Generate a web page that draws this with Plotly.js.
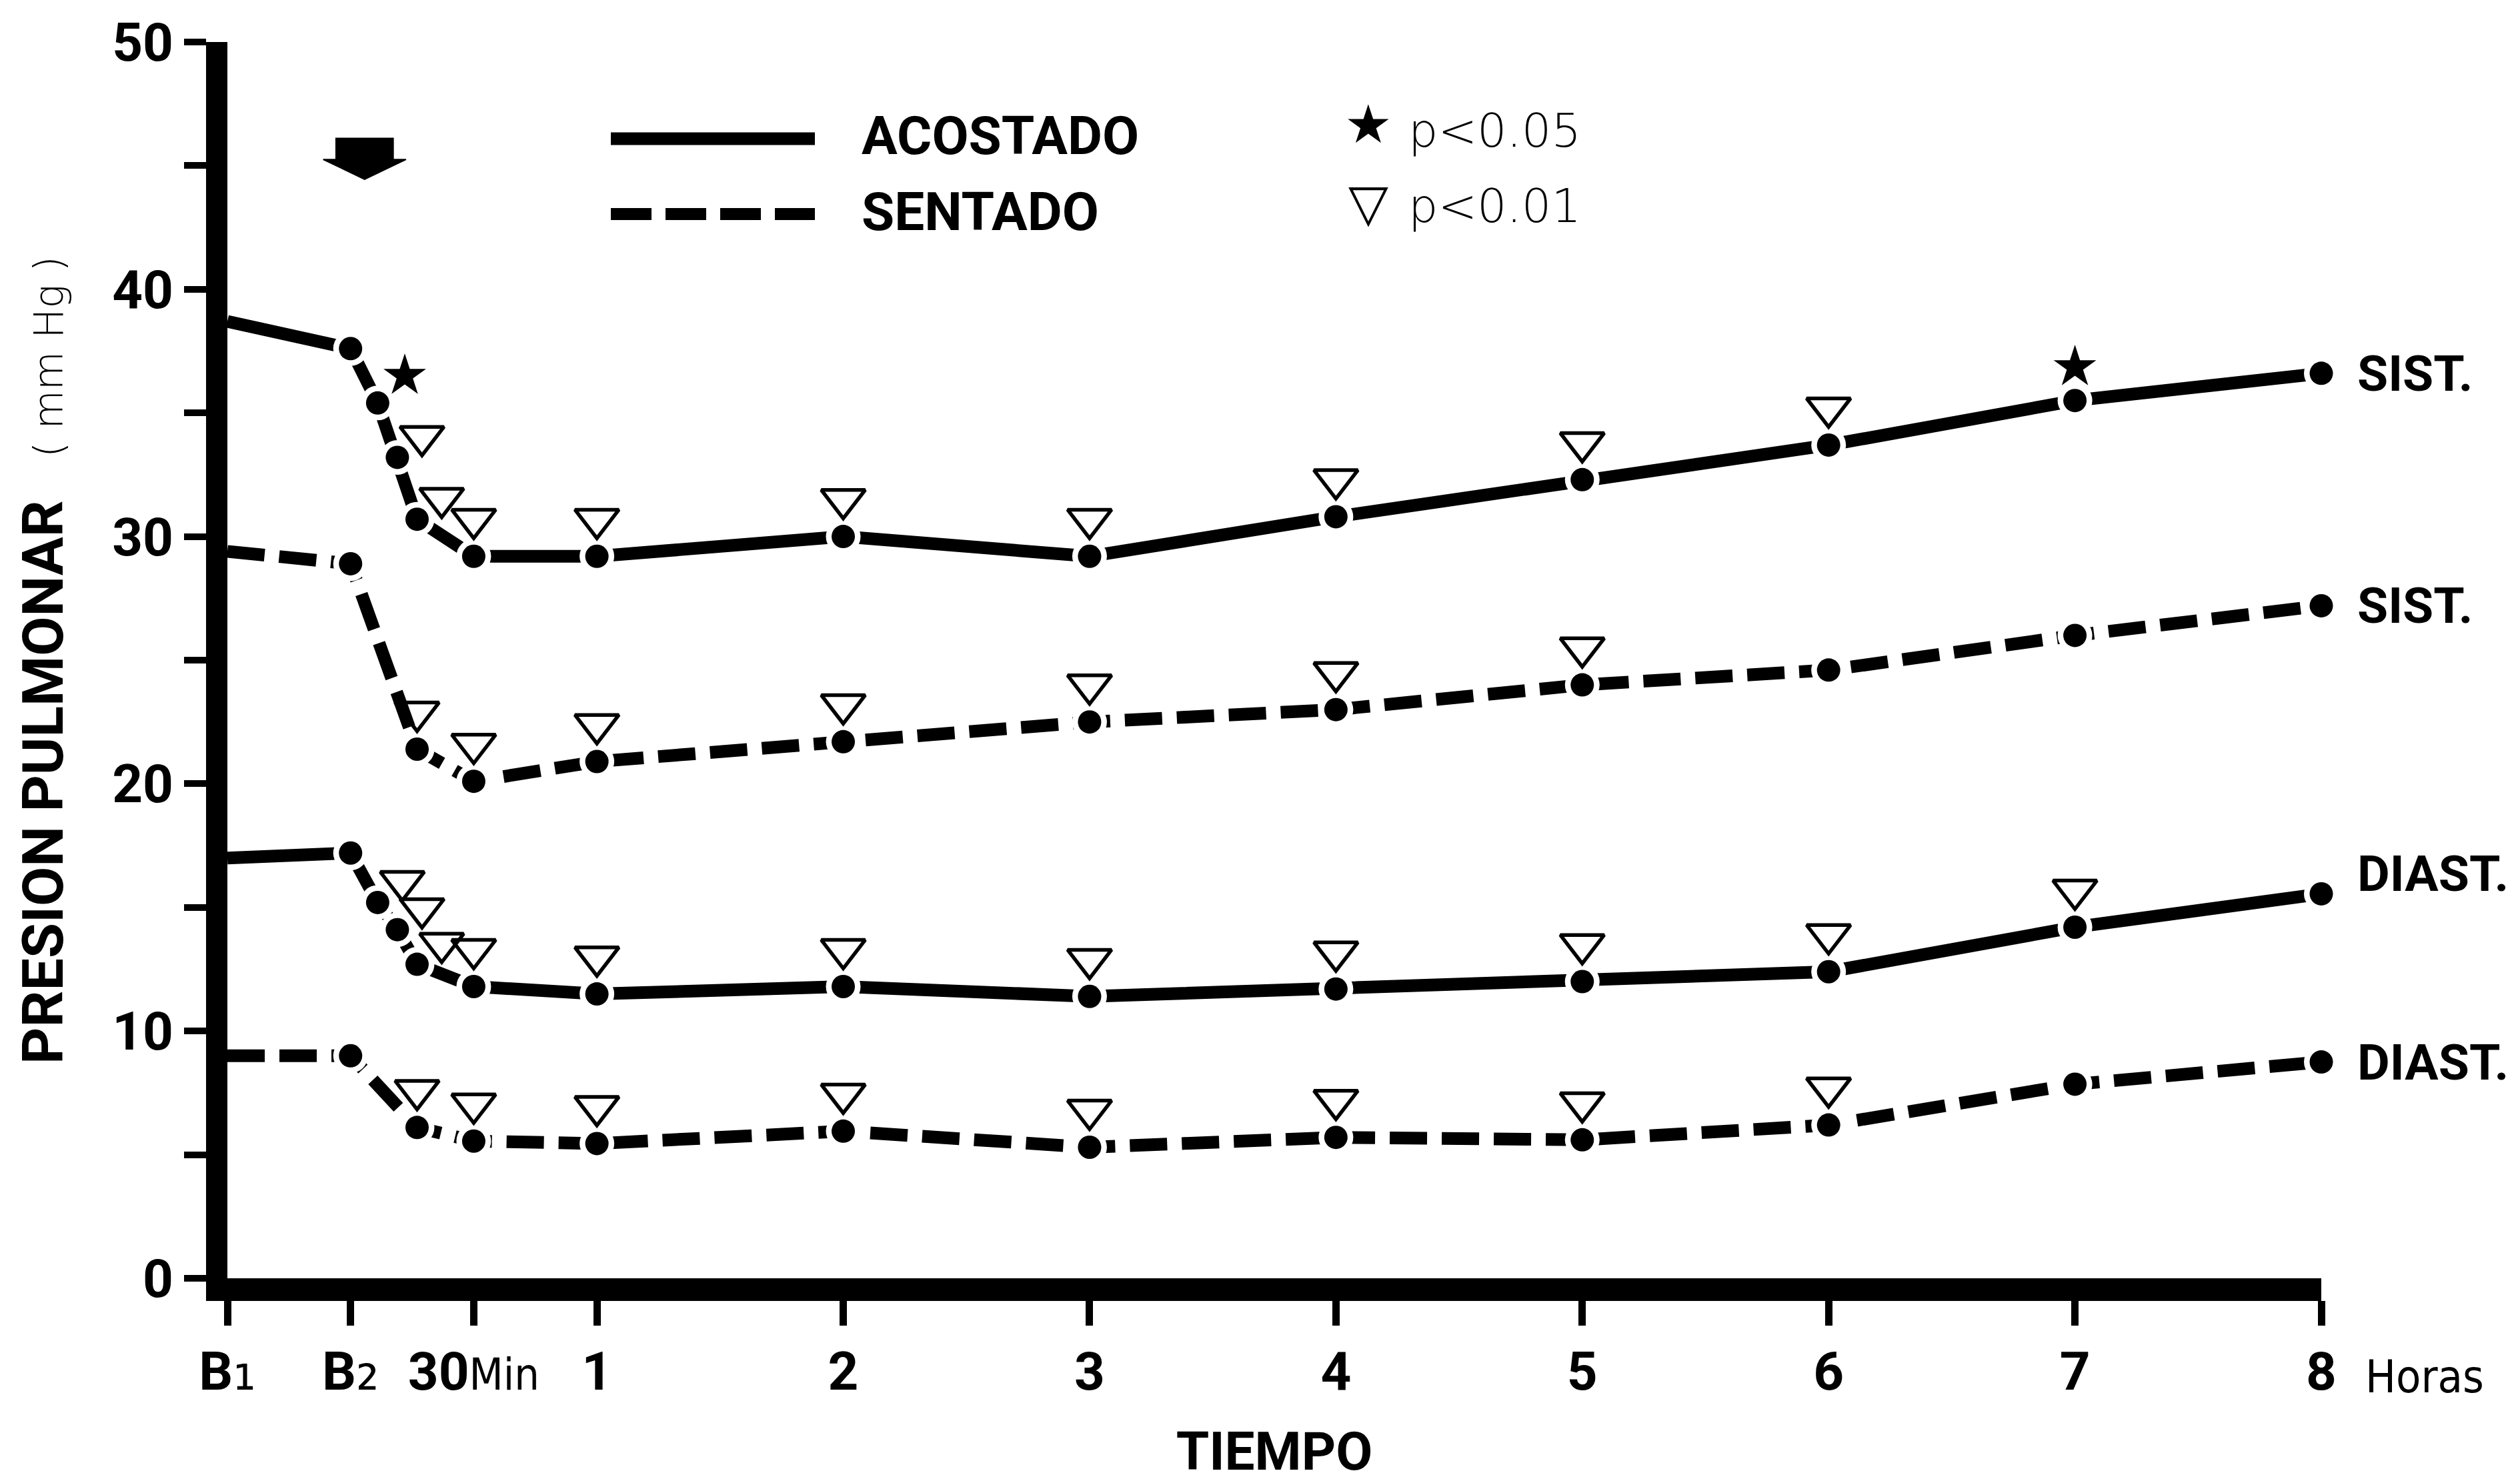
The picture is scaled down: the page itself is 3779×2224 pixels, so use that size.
<!DOCTYPE html>
<html>
<head>
<meta charset="utf-8">
<script src="https://cdn.plot.ly/plotly-3.0.1.min.js"></script>
<style>
  html, body { margin: 0; padding: 0; background: #ffffff; }
  #chart { width: 3779px; height: 2224px; }
</style>
</head>
<body>
<div id="chart"></div>
<script>
// ---------------- DATA ----------------
// time points: B1, B2, early minutes after B2, 30 min, 1 ... 8 h
// (x positions in hours)
const timePoints = ['B1', 'B2', '5 min', '10 min', '15 min', '30 min', '1 h', '2 h', '3 h', '4 h', '5 h', '6 h', '7 h', '8 h'];
const timeHours  = [-0.5, 0, 0.11, 0.19, 0.27, 0.5, 1, 2, 3, 4, 5, 6, 7, 8];

// pulmonary pressure (mm Hg)
const acostadoSist  = [38.7, 37.6, 35.4, 33.2, 30.7, 29.2, 29.2, 30.0, 29.2, 30.8, 32.3, 33.7, 35.5, 36.6];
const sentadoSist   = [29.4, 28.9, null, null, 21.4, 20.1, 20.9, 21.7, 22.5, 23.0, 24.0, 24.6, 26.0, 27.2];
const acostadoDiast = [17.0, 17.2, 15.2, 14.1, 12.7, 11.8, 11.5, 11.8, 11.4, 11.7, 12.0, 12.4, 14.2, 15.55];
const sentadoDiast  = [9.0, 9.0, null, null, 6.1, 5.55, 5.45, 5.95, 5.3, 5.7, 5.6, 6.2, 7.85, 8.75];

// significance: '*' = p<0.05, 'v' = p<0.01
const sigAcostadoSist  = [null, null, '*', 'v', 'v', 'v', 'v', 'v', 'v', 'v', 'v', 'v', '*', null];
const sigSentadoSist   = [null, null, null, null, 'v', 'v', 'v', 'v', 'v', 'v', 'v', null, null, null];
const sigAcostadoDiast = [null, null, 'v', 'v', 'v', 'v', 'v', 'v', 'v', 'v', 'v', 'v', 'v', null];
const sigSentadoDiast  = [null, null, null, null, 'v', 'v', 'v', 'v', 'v', 'v', 'v', 'v', null, null];

const seriesNames  = ['ACOSTADO', 'SENTADO'];
const seriesLabels = ['SIST.', 'SIST.', 'DIAST.', 'DIAST.'];

// axis ticks
const xTickVals = [-0.5, 0, 0.5, 1, 2, 3, 4, 5, 6, 7, 8];
const xTickText = ['B\u2081', 'B\u2082', '30Min', '1', '2', '3', '4', '5', '6', '7', '8'];
const yRange = [0, 50];
const yMajorStep = 10, yMinorStep = 5;

const sigLegend = ['p<0.05', 'p<0.01'];

// ---------------- STYLE / BUILD ----------------
const BOLD = 'Roboto, "Liberation Sans", Arial, sans-serif';
const THIN = '"DejaVu Sans", sans-serif';
const NARROW = '"DejaVu Sans Condensed", "Liberation Sans Narrow", sans-serif';

function fmtTick(t) {
  const s = t.match(/^(B)([\u2080-\u2089])$/);
  if (s) return '<b>' + s[1] + '</b><span style="font-family:DejaVu Sans Condensed;font-size:96px">' + s[2] + '</span>';
  const m = t.match(/^(\d+)(Min)$/);
  if (m) return '<b>' + m[1] + '</b><span style="font-family:DejaVu Sans Condensed;font-size:66px">' + m[2] + '</span>';
  return '<b>' + t + '</b>';
}

// line with white "halo" markers (gives the gap around each dot)
function lineTrace(y, dash) {
  return {
    type: 'scatter', mode: 'lines+markers',
    x: timeHours, y: y, connectgaps: true,
    line: { color: '#000', width: 19, dash: dash },
    marker: { color: '#fff', opacity: 1, size: timeHours.map(t => t < 0 ? 0 : 52), line: { width: 0 } },
    hoverinfo: 'skip', showlegend: false, cliponaxis: false
  };
}
// solid black dots
function dotTrace(y) {
  return {
    type: 'scatter', mode: 'markers',
    x: timeHours, y: y,
    marker: { color: '#000', opacity: 1, size: timeHours.map(t => t < 0 ? 0 : 35), line: { width: 0 } },
    hoverinfo: 'skip', showlegend: false, cliponaxis: false
  };
}

function sigTraces(y, sig) {
  const hasChain = y[2] !== null;
  const tri = { x: [], y: [] }, star = { x: [], y: [] };
  sig.forEach((s, i) => {
    if (!s || y[i] === null) return;
    const t = timeHours[i];
    const inChain = hasChain && t > 0 && t < 0.5;
    if (s === 'v') {
      tri.x.push(t + (inChain ? 0.1 : 0));
      tri.y.push(y[i] + (inChain ? 0.85 : 1.5));
    } else {
      star.x.push(t + (inChain ? 0.11 : 0));
      star.y.push(y[i] + (inChain ? 1.1 : 1.35));
    }
  });
  return [
    { type: 'scatter', mode: 'markers', x: tri.x, y: tri.y,
      marker: { symbol: 'triangle-down-open', size: 57, color: '#000', opacity: 1, line: { color: '#000', width: 5.5 } },
      hoverinfo: 'skip', showlegend: false, cliponaxis: false },
    { type: 'scatter', mode: 'markers', x: star.x, y: star.y,
      marker: { symbol: 'star', size: 48, color: '#000', opacity: 1, line: { width: 0 } },
      hoverinfo: 'skip', showlegend: false, cliponaxis: false }
  ];
}

const allSeries = [
  { y: acostadoSist,  sig: sigAcostadoSist,  dash: 'solid', label: seriesLabels[0], yshift: 0 },
  { y: sentadoSist,   sig: sigSentadoSist,   dash: '56px,22px', label: seriesLabels[1], yshift: 0 },
  { y: acostadoDiast, sig: sigAcostadoDiast, dash: 'solid', label: seriesLabels[2], yshift: 30 },
  { y: sentadoDiast,  sig: sigSentadoDiast,  dash: '56px,22px', label: seriesLabels[3], yshift: 0 }
];

const data = [];
allSeries.forEach(s => { data.push(lineTrace(s.y, s.dash)); data.push(dotTrace(s.y)); });
allSeries.forEach(s => sigTraces(s.y, s.sig).forEach(tr => data.push(tr)));

// plot-area geometry helpers (paper coords)
const W = 3779, H = 2224;
const M = { l: 341, r: 298, t: 63, b: 307 };
const PW = W - M.l - M.r, PH = H - M.t - M.b;
const px = v => (v - M.l) / PW;
const py = v => (H - M.b - v) / PH;

const annotations = [];
allSeries.forEach(s => {
  const last = s.y[s.y.length - 1];
  annotations.push({
    x: timeHours[timeHours.length - 1], y: last, xref: 'x', yref: 'y',
    text: '<b>' + s.label + '</b>', showarrow: false, xanchor: 'left', yanchor: 'middle',
    xshift: 52, yshift: s.yshift, font: { family: BOLD, size: 75, color: '#000' }
  });
});
annotations.push({
  x: 8, y: py(2064), xref: 'x', yref: 'paper', text: 'Horas', showarrow: false,
  xanchor: 'left', yanchor: 'middle', xshift: 64, font: { family: NARROW, size: 68, color: '#000' }
});
// legend texts
annotations.push({ x: px(1290), y: py(204), xref: 'paper', yref: 'paper', text: '<b>' + seriesNames[0] + '</b>',
  showarrow: false, xanchor: 'left', yanchor: 'middle', font: { family: BOLD, size: 80, color: '#000' } });
annotations.push({ x: px(1290), y: py(318), xref: 'paper', yref: 'paper', text: '<b>' + seriesNames[1] + '</b>',
  showarrow: false, xanchor: 'left', yanchor: 'middle', font: { family: BOLD, size: 80, color: '#000' } });
annotations.push({ x: px(2052), y: py(186), xref: 'paper', yref: 'paper', text: '\u2605',
  showarrow: false, xanchor: 'center', yanchor: 'middle', font: { family: THIN, size: 80, color: '#000' } });
annotations.push({ x: px(2052), y: py(304), xref: 'paper', yref: 'paper', text: '\u25BD',
  showarrow: false, xanchor: 'center', yanchor: 'middle', font: { family: THIN, size: 78, color: '#000' } });
annotations.push({ x: px(2110), y: py(196), xref: 'paper', yref: 'paper', text: sigLegend[0].replace('<', '&lt;'),
  showarrow: false, xanchor: 'left', yanchor: 'middle', font: { family: THIN, size: 70, color: '#000', weight: 200 } });
annotations.push({ x: px(2110), y: py(309), xref: 'paper', yref: 'paper', text: sigLegend[1].replace('<', '&lt;'),
  showarrow: false, xanchor: 'left', yanchor: 'middle', font: { family: THIN, size: 70, color: '#000', weight: 200 } });

// arrow marking the start (B2), in data coordinates
const ax0 = 0.057, aTop = 46.1, aMid = 45.25, aTip = 44.45, aBody = 0.116, aHead = 0.168;
const arrowPath = 'M' + (ax0 - aBody) + ',' + aTop + ' L' + (ax0 + aBody) + ',' + aTop +
  ' L' + (ax0 + aBody) + ',' + aMid + ' L' + (ax0 + aHead) + ',' + aMid +
  ' L' + ax0 + ',' + aTip + ' L' + (ax0 - aHead) + ',' + aMid +
  ' L' + (ax0 - aBody) + ',' + aMid + ' Z';

const shapes = [
  { type: 'line', xref: 'paper', yref: 'paper', x0: px(916), x1: px(1222), y0: py(208), y1: py(208),
    line: { color: '#000', width: 19 } },
  { type: 'line', xref: 'paper', yref: 'paper', x0: px(916), x1: px(1222), y0: py(321), y1: py(321),
    line: { color: '#000', width: 18, dash: '61px,21px' } },
  { type: 'path', xref: 'x', yref: 'y', path: arrowPath, fillcolor: '#000', line: { color: '#000', width: 2 } }
];

const layout = {
  width: W, height: H,
  margin: { l: M.l, r: M.r, t: M.t, b: M.b, pad: 0 },
  paper_bgcolor: '#fff', plot_bgcolor: '#fff',
  showlegend: false,
  xaxis: {
    range: [-0.5, 8], tickmode: 'array', tickvals: xTickVals, ticktext: xTickText.map(fmtTick),
    ticks: 'outside', ticklen: 37, tickwidth: 11, tickcolor: '#000',
    showline: true, linewidth: 34, linecolor: '#000',
    showgrid: false, zeroline: false, fixedrange: true,
    tickfont: { family: BOLD, size: 80, color: '#000' },
    title: { text: '<b>TIEMPO</b>', font: { family: BOLD, size: 80, color: '#000' }, standoff: 70 }
  },
  yaxis: {
    range: yRange, tickmode: 'linear', tick0: 0, dtick: yMajorStep,
    ticks: 'outside', ticklen: 33, tickwidth: 10, tickcolor: '#000',
    minor: { tickmode: 'linear', tick0: 0, dtick: yMinorStep, ticks: 'outside', ticklen: 33, tickwidth: 10, tickcolor: '#000', showgrid: false },
    showline: true, linewidth: 32, linecolor: '#000',
    showgrid: false, zeroline: false, fixedrange: true,
    tickfont: { family: BOLD, size: 80, color: '#000', weight: 'bold' },
    title: {
      text: '<b>PRESION PULMONAR</b>\u00a0\u00a0\u00a0<span style="font-family:DejaVu Sans;font-size:60px;font-weight:200">( mm Hg )</span>',
      font: { family: BOLD, size: 86, color: '#000' }, standoff: 60
    }
  },
  annotations: annotations,
  shapes: shapes
};

Plotly.newPlot('chart', data, layout, { staticPlot: true, displayModeBar: false });
</script>
</body>
</html>
